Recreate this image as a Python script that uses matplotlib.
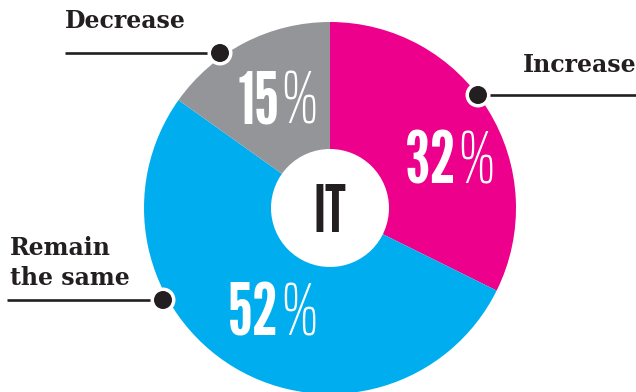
import matplotlib
matplotlib.use("Agg")
import matplotlib.pyplot as plt
from matplotlib.patches import Circle

# data
categories = ["Increase", "Remain\nthe same", "Decrease"]
values = [32, 52, 15]
colors = ["#EC008C", "#00AEEF", "#939598"]
center_label = "IT"

W, H = 636, 392
INK = "#231F20"


def Y(v):
    # picture rows (top=0) -> axis y
    return H - v


fig = plt.figure(figsize=(W / 100, H / 100), dpi=100)
ax = fig.add_axes([0, 0, 1, 1])

cx, cy, R = 330, Y(208), 186
ax.pie(values, colors=colors, startangle=90, counterclock=False,
       center=(cx, cy), radius=R, frame=True, wedgeprops=dict(linewidth=0))
ax.set_xlim(0, W)
ax.set_ylim(0, H)
ax.set_aspect("equal")
ax.axis("off")

ax.add_patch(Circle((cx, cy), 59, facecolor="white", edgecolor="none", zorder=5))
ax.text(cx, Y(232), center_label, fontfamily="League Gothic", fontsize=46,
        color=INK, ha="center", va="baseline", zorder=6)

# percentage labels: (split x, baseline) in picture pixels
pct_pos = [(456, 183), (279, 335), (279, 123)]
for v, (sx, sy) in zip(values, pct_pos):
    ax.text(sx, Y(sy), "%d" % v, fontfamily="League Gothic", fontsize=52,
            color="white", ha="right", va="baseline", zorder=6)
    ax.text(sx + 1, Y(sy), "%", fontfamily=["Saira ExtraCondensed", "Barlow Condensed"],
            fontweight=100, fontsize=54, color="white", ha="left", va="baseline", zorder=6)

# callouts: dot, line end x, label left x, first baseline
callouts = [
    ((478, 95), 636, (523, 72)),
    ((163, 300), 7, (10, 255)),
    ((220, 53), 65, (65, 28)),
]
for cat, ((dx, dy), lx, (tx, ty)) in zip(categories, callouts):
    ax.plot([dx, lx], [Y(dy), Y(dy)], color=INK, linewidth=1.9, zorder=4,
            solid_capstyle="butt")
    ax.add_patch(Circle((dx, Y(dy)), 12.5, facecolor="white", edgecolor="none", zorder=7))
    ax.add_patch(Circle((dx, Y(dy)), 9, facecolor=INK, edgecolor="none", zorder=8))
    for i, line in enumerate(cat.split("\n")):
        ax.text(tx, Y(ty + 30 * i), line, fontfamily=["Roboto Slab", "DejaVu Serif"],
                fontweight="heavy", fontsize=17, color=INK, ha="left",
                va="baseline", zorder=6)

fig.savefig("out.png", dpi=100)
